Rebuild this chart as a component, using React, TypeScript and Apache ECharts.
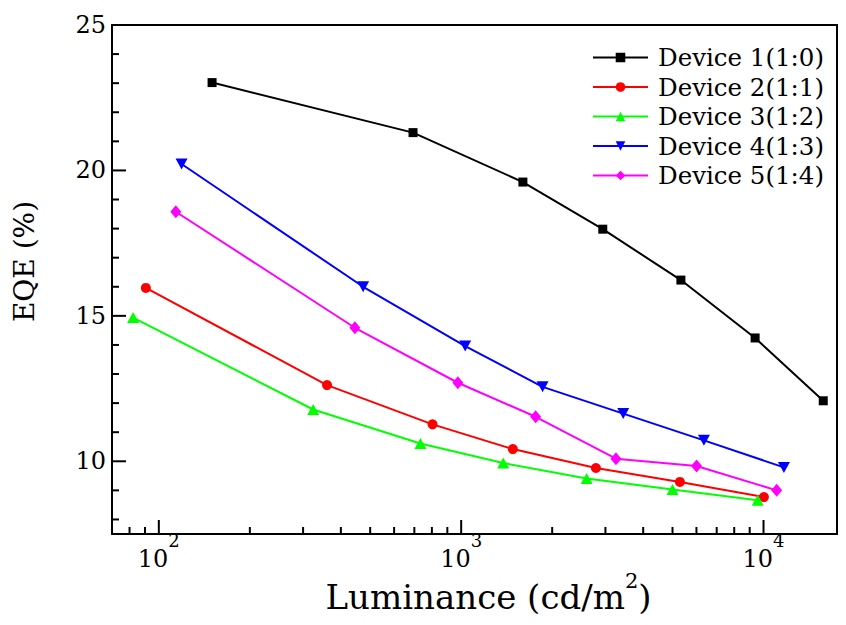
import React, { useEffect, useRef } from 'react';
import * as echarts from 'echarts';

const FONT = 'DejaVu Serif';

const SERIES_NAMES = ['Device 1(1:0)', 'Device 2(1:1)', 'Device 3(1:2)', 'Device 4(1:3)', 'Device 5(1:4)'];
const SERIES_COLORS = ['#000000', '#ff0000', '#00ff00', '#0000ff', '#ff00ff'];

const D1_X = [150, 693, 1600, 2940, 5330, 9380, 15760];
const D1_Y = [23.02, 21.3, 19.6, 17.98, 16.23, 14.24, 12.08];
const D2_X = [90.6, 360, 804, 1482, 2790, 5290, 10030];
const D2_Y = [15.96, 12.62, 11.27, 10.42, 9.77, 9.29, 8.77];
const D3_X = [82.2, 324, 733, 1377, 2600, 5000, 9570];
const D3_Y = [14.94, 11.78, 10.61, 9.94, 9.41, 9.03, 8.66];
const D4_X = [118.9, 474, 1031, 1859, 3436, 6352, 11680];
const D4_Y = [20.22, 16.0, 13.96, 12.56, 11.64, 10.72, 9.79];
const D5_X = [113.8, 445, 975, 1763, 3250, 6005, 11050];
const D5_Y = [18.58, 14.59, 12.7, 11.53, 10.09, 9.84, 9.0];

const X_MIN = 70;
const X_MAX = 17500;
const Y_MIN = 7.5;
const Y_MAX = 25;

const X_MAJOR_TICKS = [100, 1000, 10000];
const X_MINOR_TICKS = [80, 90, 200, 300, 400, 500, 600, 700, 800, 900, 2000, 3000, 4000, 5000, 6000, 7000, 8000, 9000];
const Y_MAJOR_TICKS = [10, 15, 20];
const Y_MINOR_TICKS = [8, 9, 11, 12, 13, 14, 16, 17, 18, 19, 21, 22, 23, 24];

const X_TITLE = 'Luminance (cd/m';
const X_TITLE_SUP = '2';
const X_TITLE_END = ')';
const Y_TITLE = 'EQE (%)';

const SYMBOLS = ['rect', 'circle', 'triangle', 'triangle', 'diamond'];
const SYMBOL_SIZES: any[] = [9, 10, [12, 11], [12, 11], [11, 13]];
const SYMBOL_ROTATE = [0, 0, 0, 180, 0];

const GRID_LEFT = 112;
const GRID_TOP = 25;
const GRID_RIGHT = 9;
const GRID_BOTTOM = 91;

export default function App() {
  const ref = useRef<HTMLDivElement>(null);
  useEffect(() => {
    if (!ref.current) return;
    const chart = echarts.init(ref.current, null, { renderer: 'svg' });
    const xs = [D1_X, D2_X, D3_X, D4_X, D5_X];
    const ys = [D1_Y, D2_Y, D3_Y, D4_Y, D5_Y];
    const lineSeries = SERIES_NAMES.map((name, i) => ({
      name,
      type: 'line',
      xAxisIndex: 0,
      yAxisIndex: 0,
      data: xs[i].map((x, j) => [x, ys[i][j]]),
      symbol: SYMBOLS[i],
      symbolSize: SYMBOL_SIZES[i],
      symbolRotate: SYMBOL_ROTATE[i],
      showAllSymbol: true,
      color: SERIES_COLORS[i],
      itemStyle: { color: SERIES_COLORS[i] },
      lineStyle: { color: SERIES_COLORS[i], width: 2 },
      z: 3,
    }));
    const axisLineStyle = { show: true, onZero: false, lineStyle: { color: '#000', width: 2 } };
    chart.setOption({
      animation: false,
      backgroundColor: '#ffffff',
      grid: {
        left: GRID_LEFT,
        top: GRID_TOP,
        right: GRID_RIGHT,
        bottom: GRID_BOTTOM,
        show: false,
        containLabel: false,
        outerBoundsMode: 'none',
      },
      legend: {
        data: SERIES_NAMES,
        orient: 'vertical',
        left: 592,
        top: 45,
        padding: 0,
        itemWidth: 55,
        itemHeight: 12,
        itemGap: 4.5,
        textStyle: { fontFamily: FONT, fontSize: 24.5, color: '#000', padding: [0, 0, 0, 5] },
      },
      xAxis: [
        {
          type: 'log',
          logBase: 10,
          min: X_MIN,
          max: X_MAX,
          position: 'bottom',
          name: `{t|${X_TITLE}}{s|${X_TITLE_SUP}}{t|${X_TITLE_END}}`,
          nameLocation: 'middle',
          nameGap: 36,
          nameMoveOverlap: false,
          nameTextStyle: {
            padding: [0, 0, 0, 28],
            rich: {
              t: { fontFamily: FONT, fontSize: 34, color: '#000', lineHeight: 44, verticalAlign: 'bottom' },
              s: { fontFamily: FONT, fontSize: 21, color: '#000', lineHeight: 21, verticalAlign: 'top' },
            },
          },
          axisLine: axisLineStyle,
          axisTick: { show: false },
          splitLine: { show: false },
          minorTick: { show: false },
          axisLabel: {
            margin: -3,
            formatter: (v: number) => {
              const e = Math.round(Math.log10(v));
              if (Math.abs(Math.log10(v) - e) > 1e-6) return '';
              return `{b|10}{s|${e}}`;
            },
            rich: {
              b: { fontFamily: FONT, fontSize: 24, color: '#000', lineHeight: 40, verticalAlign: 'bottom' },
              s: { fontFamily: FONT, fontSize: 18, color: '#000', lineHeight: 18, verticalAlign: 'top' },
            },
          },
        },
        {
          type: 'log',
          logBase: 10,
          min: X_MIN,
          max: X_MAX,
          position: 'top',
          axisLine: axisLineStyle,
          axisTick: { show: false },
          axisLabel: { show: false },
          splitLine: { show: false },
        },
      ],
      yAxis: [
        {
          type: 'value',
          min: Y_MIN,
          max: Y_MAX,
          splitNumber: 3,
          position: 'left',
          name: Y_TITLE,
          nameLocation: 'middle',
          nameRotate: 90,
          nameGap: 74,
          nameMoveOverlap: false,
          nameTextStyle: { fontFamily: FONT, fontSize: 28, color: '#000', padding: [0, 0, 0, 36] },
          axisLine: axisLineStyle,
          axisTick: { show: false },
          splitLine: { show: false },
          axisLabel: {
            margin: 6,
            fontFamily: FONT,
            fontSize: 24,
            color: '#000',
            formatter: (v: number) => (Math.abs(v % 5) < 1e-9 ? String(v) : ''),
          },
        },
        {
          type: 'value',
          min: Y_MIN,
          max: Y_MAX,
          position: 'right',
          axisLine: axisLineStyle,
          axisTick: { show: false },
          axisLabel: { show: false },
          splitLine: { show: false },
        },
      ],
      series: lineSeries,
    });

    // Tick marks placed through the axes' own scales
    const toX = (v: number) => {
      const r: any = chart.convertToPixel({ xAxisIndex: 0 }, v);
      return Array.isArray(r) ? r[0] : r;
    };
    const toY = (v: number) => {
      const r: any = chart.convertToPixel({ yAxisIndex: 0 }, v);
      return Array.isArray(r) ? r[1] : r;
    };
    const yBottom = toY(Y_MIN);
    const xLeft = toX(X_MIN);
    const tickRects: any[] = [];
    const addX = (v: number, len: number) => {
      const px = toX(v);
      if (!isFinite(px)) return;
      tickRects.push({
        type: 'rect',
        shape: { x: px - 1, y: yBottom - len, width: 2, height: len },
        style: { fill: '#000000' },
        silent: true,
        z: 10,
      });
    };
    const addY = (v: number, len: number) => {
      const py = toY(v);
      if (!isFinite(py)) return;
      tickRects.push({
        type: 'rect',
        shape: { x: xLeft, y: py - 1, width: len, height: 2 },
        style: { fill: '#000000' },
        silent: true,
        z: 10,
      });
    };
    X_MAJOR_TICKS.forEach((v) => addX(v, 14));
    X_MINOR_TICKS.forEach((v) => addX(v, 7));
    Y_MAJOR_TICKS.forEach((v) => addY(v, 14));
    Y_MINOR_TICKS.forEach((v) => addY(v, 7));
    chart.setOption({ graphic: { elements: tickRects } });

    return () => chart.dispose();
  }, []);
  return <div ref={ref} style={{ position: 'fixed', left: 0, top: 0, width: 846, height: 625 }} />;
}
